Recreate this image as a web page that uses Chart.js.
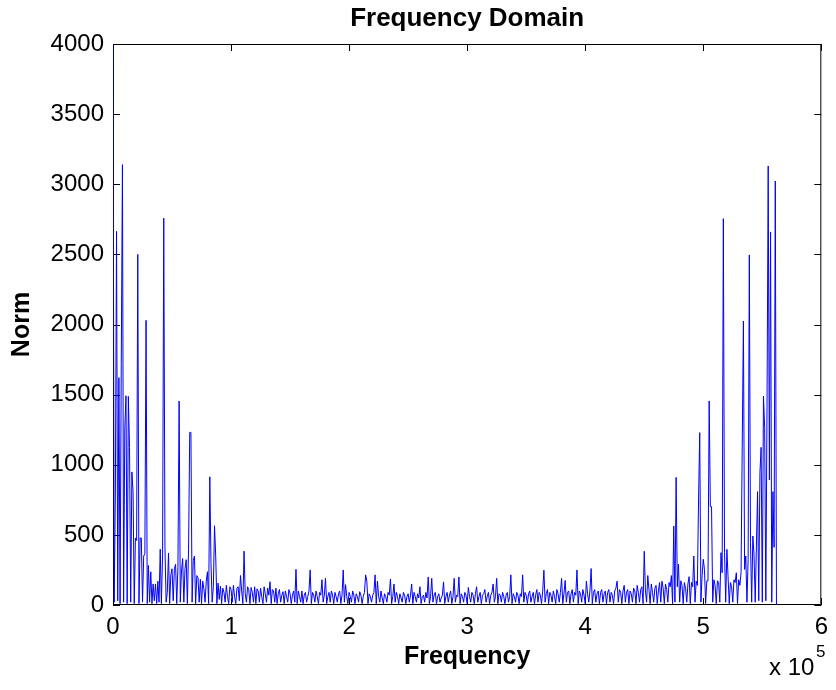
<!DOCTYPE html>
<html>
<head>
<meta charset="utf-8">
<title>Frequency Domain</title>
<script src="https://cdn.jsdelivr.net/npm/chart.js@4.4.1/dist/chart.umd.min.js"></script>
<style>
  body { margin: 0; background: #fff; }
  #wrap { width: 836px; height: 690px; }
</style>
</head>
<body>
<div id="wrap"><canvas id="spectrum" width="836" height="690"></canvas></div>
<script>
// spectrum magnitude, one value per 1000 Hz bin
var binHz = 1000;
var normValues = [
  4000, 20, 806, 2664, 30, 1621, 10, 1715, 3140, 20, 1263, 1492, 10, 1487, 1124, 20, 949, 806, 10, 478,
  460, 2500, 10, 478, 478, 20, 349, 366, 2030, 10, 282, 20, 237, 10, 150, 30, 150, 10, 170, 20,
  398, 10, 357, 2758, 420, 20, 89, 371, 10, 215, 258, 30, 258, 290, 10, 269, 1454, 20, 242, 331,
  20, 258, 323, 10, 398, 1231, 1231, 20, 317, 349, 10, 210, 196, 20, 183, 10, 170, 116, 20, 170,
  237, 10, 914, 296, 20, 130, 565, 349, 10, 156, 40, 134, 10, 120, 90, 20, 140, 60, 10, 130,
  110, 20, 140, 60, 10, 120, 130, 30, 210, 100, 10, 384, 80, 20, 130, 110, 10, 125, 90, 20,
  130, 10, 115, 100, 20, 120, 60, 10, 130, 80, 20, 120, 70, 166, 10, 110, 100, 20, 120, 10,
  80, 110, 20, 70, 95, 10, 100, 60, 20, 110, 80, 10, 70, 100, 20, 254, 10, 100, 60, 20,
  100, 10, 70, 90, 20, 60, 100, 250, 10, 90, 70, 20, 100, 60, 10, 90, 70, 180, 20, 70,
  190, 10, 60, 90, 20, 100, 70, 10, 90, 60, 20, 80, 100, 10, 70, 250, 20, 145, 60, 10,
  90, 60, 20, 100, 70, 10, 80, 60, 20, 95, 70, 10, 60, 90, 215, 170, 10, 80, 60, 20,
  70, 90, 215, 10, 170, 60, 20, 100, 50, 10, 80, 60, 20, 90, 70, 185, 10, 60, 150, 20,
  90, 60, 10, 80, 50, 20, 90, 70, 10, 60, 80, 20, 70, 150, 10, 90, 60, 20, 80, 50,
  130, 10, 60, 70, 20, 90, 50, 200, 10, 60, 190, 20, 70, 90, 10, 60, 80, 20, 50, 70,
  165, 10, 60, 90, 20, 70, 100, 10, 60, 190, 20, 70, 60, 200, 10, 80, 60, 20, 90, 70,
  10, 125, 60, 20, 90, 70, 10, 80, 130, 20, 60, 90, 10, 70, 80, 110, 20, 60, 90, 10,
  70, 90, 150, 20, 60, 190, 10, 80, 70, 20, 90, 60, 10, 70, 90, 20, 60, 215, 10, 80,
  60, 20, 90, 70, 10, 80, 60, 215, 20, 90, 70, 10, 80, 100, 20, 60, 90, 10, 70, 110,
  20, 90, 70, 10, 100, 248, 20, 80, 110, 10, 90, 70, 20, 100, 60, 10, 110, 80, 20, 90,
  190, 10, 80, 175, 20, 90, 100, 10, 80, 110, 20, 90, 70, 250, 10, 100, 80, 20, 110, 70,
  10, 170, 80, 20, 100, 260, 10, 90, 110, 20, 80, 100, 10, 90, 110, 20, 80, 100, 10, 90,
  110, 20, 90, 70, 10, 100, 120, 170, 20, 110, 90, 10, 100, 140, 20, 90, 110, 10, 100, 80,
  20, 120, 100, 10, 140, 90, 20, 110, 130, 10, 383, 100, 20, 210, 110, 10, 150, 90, 20, 120,
  140, 10, 100, 160, 20, 170, 120, 10, 150, 110, 20, 160, 130, 210, 10, 563, 20, 910, 130, 292,
  20, 173, 140, 10, 160, 120, 20, 150, 202, 10, 160, 130, 349, 20, 170, 140, 749, 1229, 20, 207,
  326, 254, 10, 173, 173, 1455, 701, 701, 20, 180, 140, 10, 173, 160, 20, 373, 230, 2755, 373, 20,
  397, 200, 10, 160, 130, 20, 180, 160, 230, 10, 180, 140, 230, 1134, 2025, 254, 349, 20, 326, 2496,
  444, 20, 492, 356, 20, 420, 808, 30, 944, 1124, 20, 1490, 1264, 30, 1419, 3130, 891, 2660, 20, 808,
  411, 3023, 0
];
var freqHz = normValues.map(function (v, i) { return i * binHz; });
var xTickLabels = ['0', '1', '2', '3', '4', '5', '6'];

Chart.defaults.color = '#000';
Chart.defaults.font.family = '"Liberation Sans", Arial, sans-serif';

// matlab style box with inward ticks + the x10^5 exponent
var boxPlugin = {
  id: 'matlabBox',
  beforeDatasetsDraw: function (chart) {
    var ctx = chart.ctx, a = chart.chartArea;
    var xs = chart.scales.x, ys = chart.scales.y;
    ctx.save();
    ctx.strokeStyle = '#000';
    ctx.lineWidth = 1;
    ctx.beginPath();
    ctx.rect(a.left + 0.5, a.top + 0.5, a.right - a.left - 1, a.bottom - a.top - 1);
    xs.ticks.forEach(function (t) {
      var px = Math.round(xs.getPixelForValue(t.value)) + 0.5;
      ctx.moveTo(px, a.bottom); ctx.lineTo(px, a.bottom - 7);
      ctx.moveTo(px, a.top); ctx.lineTo(px, a.top + 7);
    });
    ys.ticks.forEach(function (t) {
      var py = Math.round(ys.getPixelForValue(t.value)) + 0.5;
      ctx.moveTo(a.left, py); ctx.lineTo(a.left + 7, py);
      ctx.moveTo(a.right, py); ctx.lineTo(a.right - 7, py);
    });
    ctx.stroke();
    ctx.restore();
  },
  afterDraw: function (chart) {
    var ctx = chart.ctx;
    ctx.save();
    ctx.fillStyle = '#000';
    ctx.textBaseline = 'alphabetic';
    ctx.font = '24px "Liberation Sans", Arial, sans-serif';
    ctx.fillText('x 10', 769, 675);
    ctx.font = '17px "Liberation Sans", Arial, sans-serif';
    ctx.fillText('5', 816, 657);
    ctx.restore();
  }
};

var ctx = document.getElementById('spectrum').getContext('2d');
var spectrumChart = new Chart(ctx, {
  type: 'line',
  data: {
    labels: freqHz,
    datasets: [{
      label: 'Norm',
      data: normValues,
      borderColor: '#0000ff',
      borderWidth: 1,
      pointRadius: 0,
      tension: 0,
      fill: false
    }]
  },
  options: {
    responsive: false,
    animation: false,
    layout: { padding: { right: 11 } },
    plugins: {
      legend: { display: false },
      tooltip: { enabled: false },
      title: {
        display: true,
        fullSize: false,
        text: 'Frequency Domain',
        font: { size: 26, weight: 'bold' },
        padding: { top: 3, bottom: 9.8 }
      }
    },
    scales: {
      x: {
        type: 'linear',
        min: 0,
        max: 600000,
        afterFit: function (s) { s.height = 85; },
        grid: { display: false, drawTicks: false },
        border: { display: false },
        ticks: {
          stepSize: 100000,
          padding: 8,
          maxRotation: 0,
          font: { size: 24 },
          callback: function (v) { return xTickLabels[Math.round(v / 100000)]; }
        },
        title: {
          display: true,
          text: 'Frequency',
          font: { size: 25, weight: 'bold' },
          padding: { bottom: 18 }
        }
      },
      y: {
        min: 0,
        max: 4000,
        afterFit: function (s) { s.width = 113; },
        grid: { display: false, drawTicks: false },
        border: { display: false },
        ticks: {
          stepSize: 500,
          padding: 9,
          font: { size: 24 },
          callback: function (v) { return String(v); }
        },
        title: {
          display: true,
          text: 'Norm',
          font: { size: 25, weight: 'bold' },
          padding: { top: 7 }
        }
      }
    }
  },
  plugins: [boxPlugin]
});
</script>
</body>
</html>
